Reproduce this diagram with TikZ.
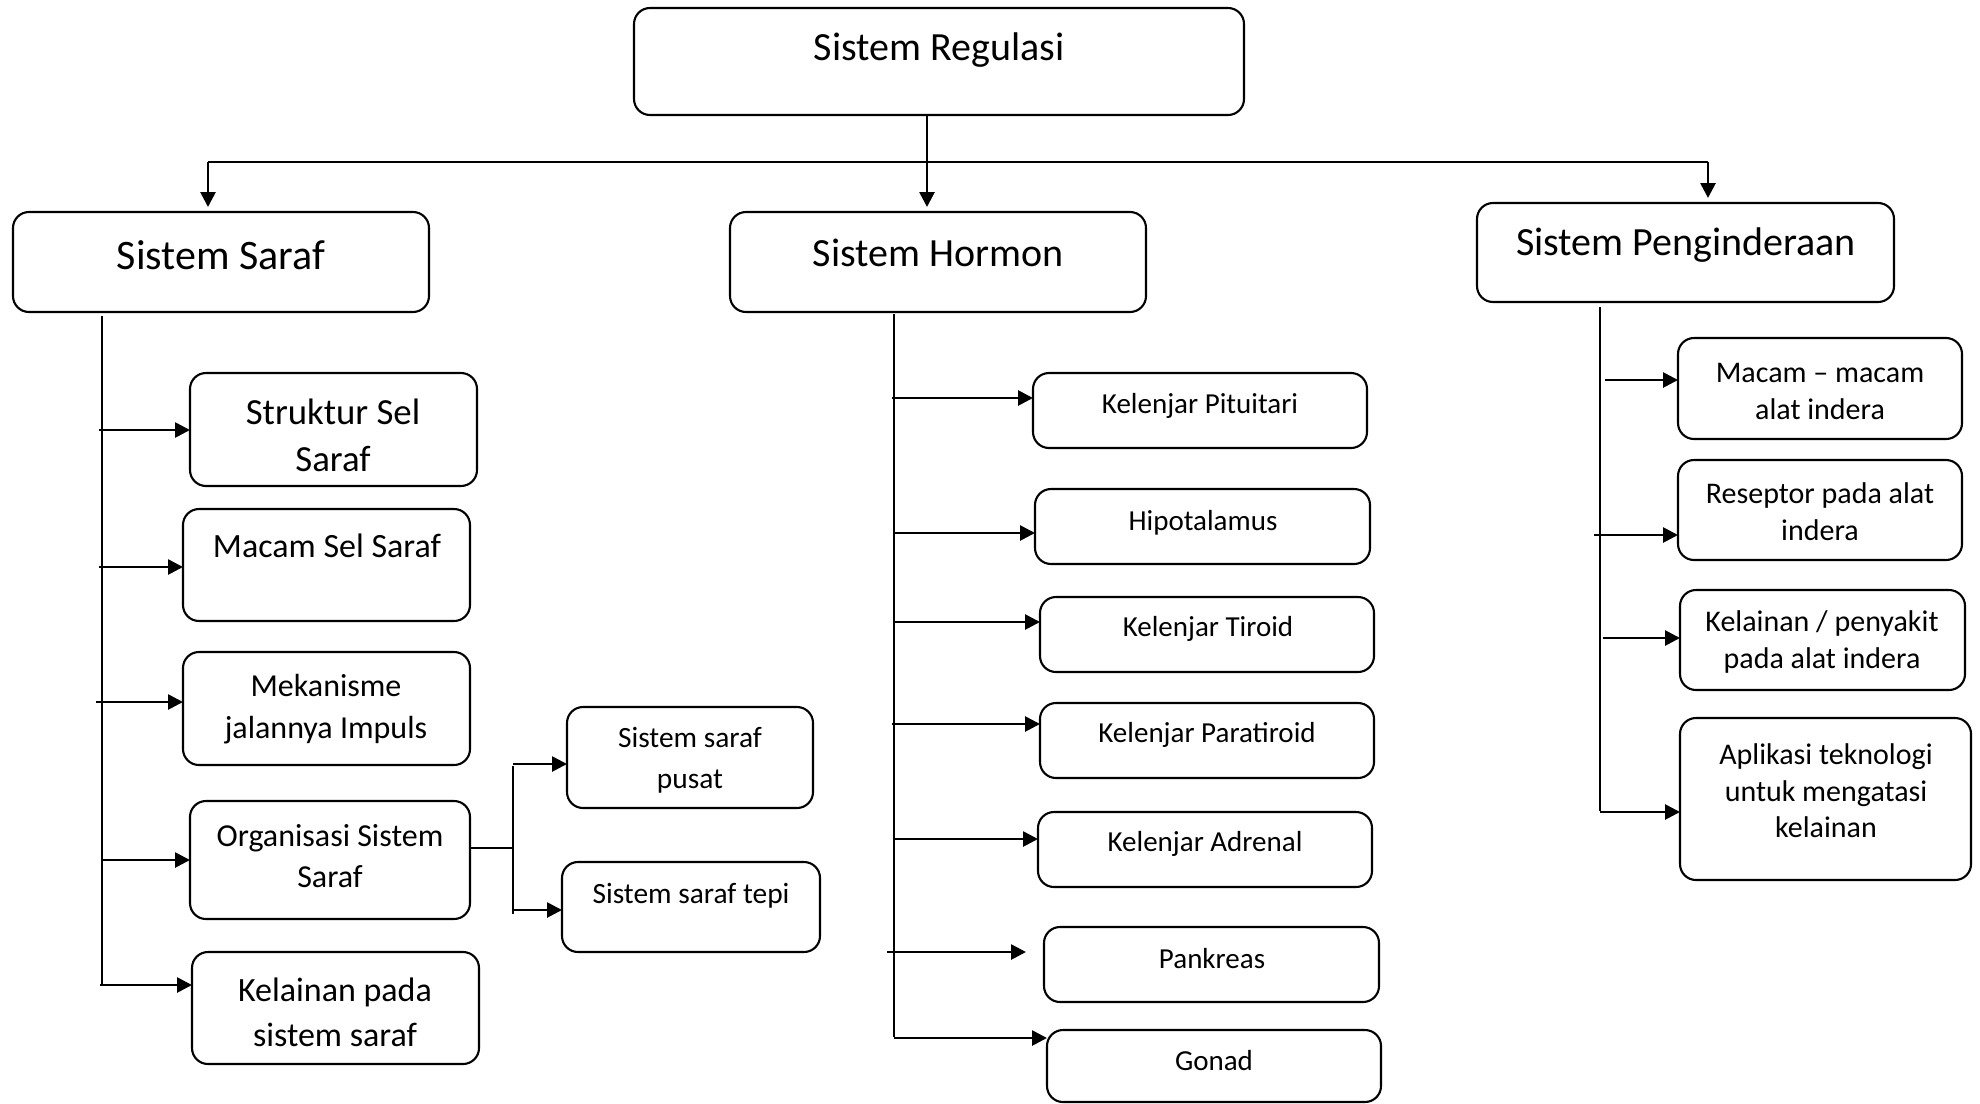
\documentclass[tikz,border=0pt]{standalone}
\usepackage{fontspec}
\setmainfont{Carlito}
\usetikzlibrary{arrows.meta}
\newcommand\mkbox[5]{\node[box, minimum width={(#4-#2)*0.5pt}, minimum height={(#5-#3)*0.5pt}] (#1) at ({(#2+#4)/2},{(#3+#5)/2}) {};}
\newcommand\fs[2]{\fontsize{#1}{#2}\selectfont}
\tikzset{
  box/.style={draw, rounded corners=8pt, line width=1.05pt, inner sep=0pt, outer sep=0pt},
  txt/.style={align=center, inner sep=0pt},
  ln/.style={line width=1.35pt},
  arr/.style={line width=1.35pt, -{Triangle[length=7.5pt,width=7.5pt]}},
}
\begin{document}
\begin{tikzpicture}[x=0.5pt,y=-0.5pt]
\useasboundingbox (0,0) rectangle (1980,1103);
% boxes
\mkbox{reg}{634}{8}{1244}{115}
\mkbox{ss}{13}{212}{429}{312}
\mkbox{hm}{730}{212}{1146}{312}
\mkbox{pg}{1477}{203}{1894}{302}
% saraf
\mkbox{b1}{190}{373}{477}{486}
\mkbox{b2}{183}{509}{470}{621}
\mkbox{b3}{183}{652}{470}{765}
\mkbox{b4}{190}{801}{470}{919}
\mkbox{b5}{192}{952}{479}{1064}
\mkbox{b6}{567}{707}{813}{808}
\mkbox{b7}{562}{862}{820}{952}
% hormon
\mkbox{h1}{1033}{373}{1367}{448}
\mkbox{h2}{1035}{489}{1370}{564}
\mkbox{h3}{1040}{597}{1374}{672}
\mkbox{h4}{1040}{703}{1374}{778}
\mkbox{h5}{1038}{812}{1372}{887}
\mkbox{h6}{1044}{927}{1379}{1002}
\mkbox{h7}{1047}{1030}{1381}{1102}
% penginderaan
\mkbox{p1}{1678}{338}{1962}{439}
\mkbox{p2}{1678}{460}{1962}{560}
\mkbox{p3}{1680}{590}{1965}{690}
\mkbox{p4}{1680}{718}{1971}{880}
% texts
\node[txt, font=\fs{20}{24}] (treg) at (939,50) {Sistem Regulasi};
\node[txt, font=\fs{21}{25}] (tss) at (221,255) {Sistem Saraf};
\node[txt, font=\fs{20}{24}] (thm) at (938,253) {Sistem Hormon};
\node[txt, font=\fs{20}{24}] (tpg) at (1686,245) {Sistem Penginderaan};
\node[txt, font=\fs{18.4}{23.5}] (tb1) at (333,435) {Struktur Sel\\Saraf};
\node[txt, font=\fs{17}{21}] (tb2) at (327,546) {Macam Sel Saraf};
\node[txt, font=\fs{16}{21}] (tb3) at (326,709) {Mekanisme\\jalannya Impuls};
\node[txt, font=\fs{16}{20.5}] (tb4) at (330,856) {Organisasi Sistem\\Saraf};
\node[txt, font=\fs{17}{22.5}] (tb5) at (335,1012) {Kelainan pada\\sistem saraf};
\node[txt, font=\fs{14.7}{20.5}] (tb6) at (690,760) {Sistem saraf\\pusat};
\node[txt, font=\fs{14.7}{18}] (tb7) at (691,896) {Sistem saraf tepi};
\node[txt, font=\fs{14.5}{18}] (th1) at (1200,406) {Kelenjar Pituitari};
\node[txt, font=\fs{14.5}{18}] (th2) at (1203,523) {Hipotalamus};
\node[txt, font=\fs{14.5}{18}] (th3) at (1208,629) {Kelenjar Tiroid};
\node[txt, font=\fs{14.5}{18}] (th4) at (1207,735) {Kelenjar Paratiroid};
\node[txt, font=\fs{14.5}{18}] (th5) at (1205,844) {Kelenjar Adrenal};
\node[txt, font=\fs{14.5}{18}] (th6) at (1212,959) {Pankreas};
\node[txt, font=\fs{14.5}{18}] (th7) at (1214,1061) {Gonad};
\node[txt, font=\fs{15}{18.5}] (tp1) at (1820,391) {Macam – macam\\alat indera};
\node[txt, font=\fs{15}{18.5}] (tp2) at (1820,512) {Reseptor pada alat\\indera};
\node[txt, font=\fs{15}{18.5}] (tp3) at (1822,642) {Kelainan / penyakit\\pada alat indera};
\node[txt, font=\fs{15}{18.25}] (tp4) at (1826,791) {Aplikasi teknologi\\untuk mengatasi\\kelainan};
% top connectors
\coordinate (hub) at (927,162);
\coordinate (barL) at (208,162);
\coordinate (barR) at (1708,162);
\draw[ln] (barL) -- (barR);
\draw[arr, shorten >=2.5pt] (reg.south -| hub) -- (hm.north -| hub);
\draw[arr, shorten >=2.5pt] (barL) -- (ss.north -| barL);
\draw[arr, shorten >=2.5pt] (barR) -- (pg.north -| barR);
% saraf trunk
\coordinate (saT) at (102,316);
\coordinate (saB) at (102,986);
\draw[ln] (saT) -- (saB);
\coordinate (sa1) at (99,430);
\coordinate (sa2) at (99,567);
\coordinate (sa3) at (96,702);
\coordinate (sa4) at (102,860);
\coordinate (sa5) at (100,985);
\draw[arr] (sa1) -- (b1.west |- sa1);
\draw[arr] (sa2) -- (b2.west |- sa2);
\draw[arr] (sa3) -- (b3.west |- sa3);
\draw[arr] (sa4) -- (b4.west |- sa4);
\draw[arr] (sa5) -- (b5.west |- sa5);
% organisasi sub-branch
\coordinate (ob) at (513,848);
\coordinate (obT) at (513,766);
\coordinate (obB) at (513,914);
\draw[ln] (b4.east |- ob) -- (ob);
\draw[ln] (obT) -- (obB);
\coordinate (o1) at (513,764);
\coordinate (o2) at (513,910);
\draw[arr] (o1) -- (b6.west |- o1);
\draw[arr] (o2) -- (b7.west |- o2);
% hormon trunk
\coordinate (hmT) at (894,314);
\coordinate (hmB) at (894,1037);
\draw[ln] (hmT) -- (hmB);
\coordinate (ha1) at (892,398);
\coordinate (ha2) at (894,533);
\coordinate (ha3) at (894,622);
\coordinate (ha4) at (892,724);
\coordinate (ha5) at (894,839);
\coordinate (ha6) at (887,952);
\coordinate (ha7) at (894,1038);
\draw[arr] (ha1) -- (h1.west |- ha1);
\draw[arr] (ha2) -- (h2.west |- ha2);
\draw[arr] (ha3) -- (h3.west |- ha3);
\draw[arr] (ha4) -- (h4.west |- ha4);
\draw[arr] (ha5) -- (h5.west |- ha5);
\draw[arr, shorten >=9pt] (ha6) -- (h6.west |- ha6);
\draw[arr] (ha7) -- (h7.west |- ha7);
% penginderaan trunk
\coordinate (pgT) at (1600,307);
\coordinate (pgB) at (1600,811);
\draw[ln] (pgT) -- (pgB);
\coordinate (pa1) at (1605,380);
\coordinate (pa2) at (1594,535);
\coordinate (pa3) at (1603,638);
\coordinate (pa4) at (1600,812);
\draw[arr] (pa1) -- (p1.west |- pa1);
\draw[arr] (pa2) -- (p2.west |- pa2);
\draw[arr] (pa3) -- (p3.west |- pa3);
\draw[arr] (pa4) -- (p4.west |- pa4);
\end{tikzpicture}
\end{document}
